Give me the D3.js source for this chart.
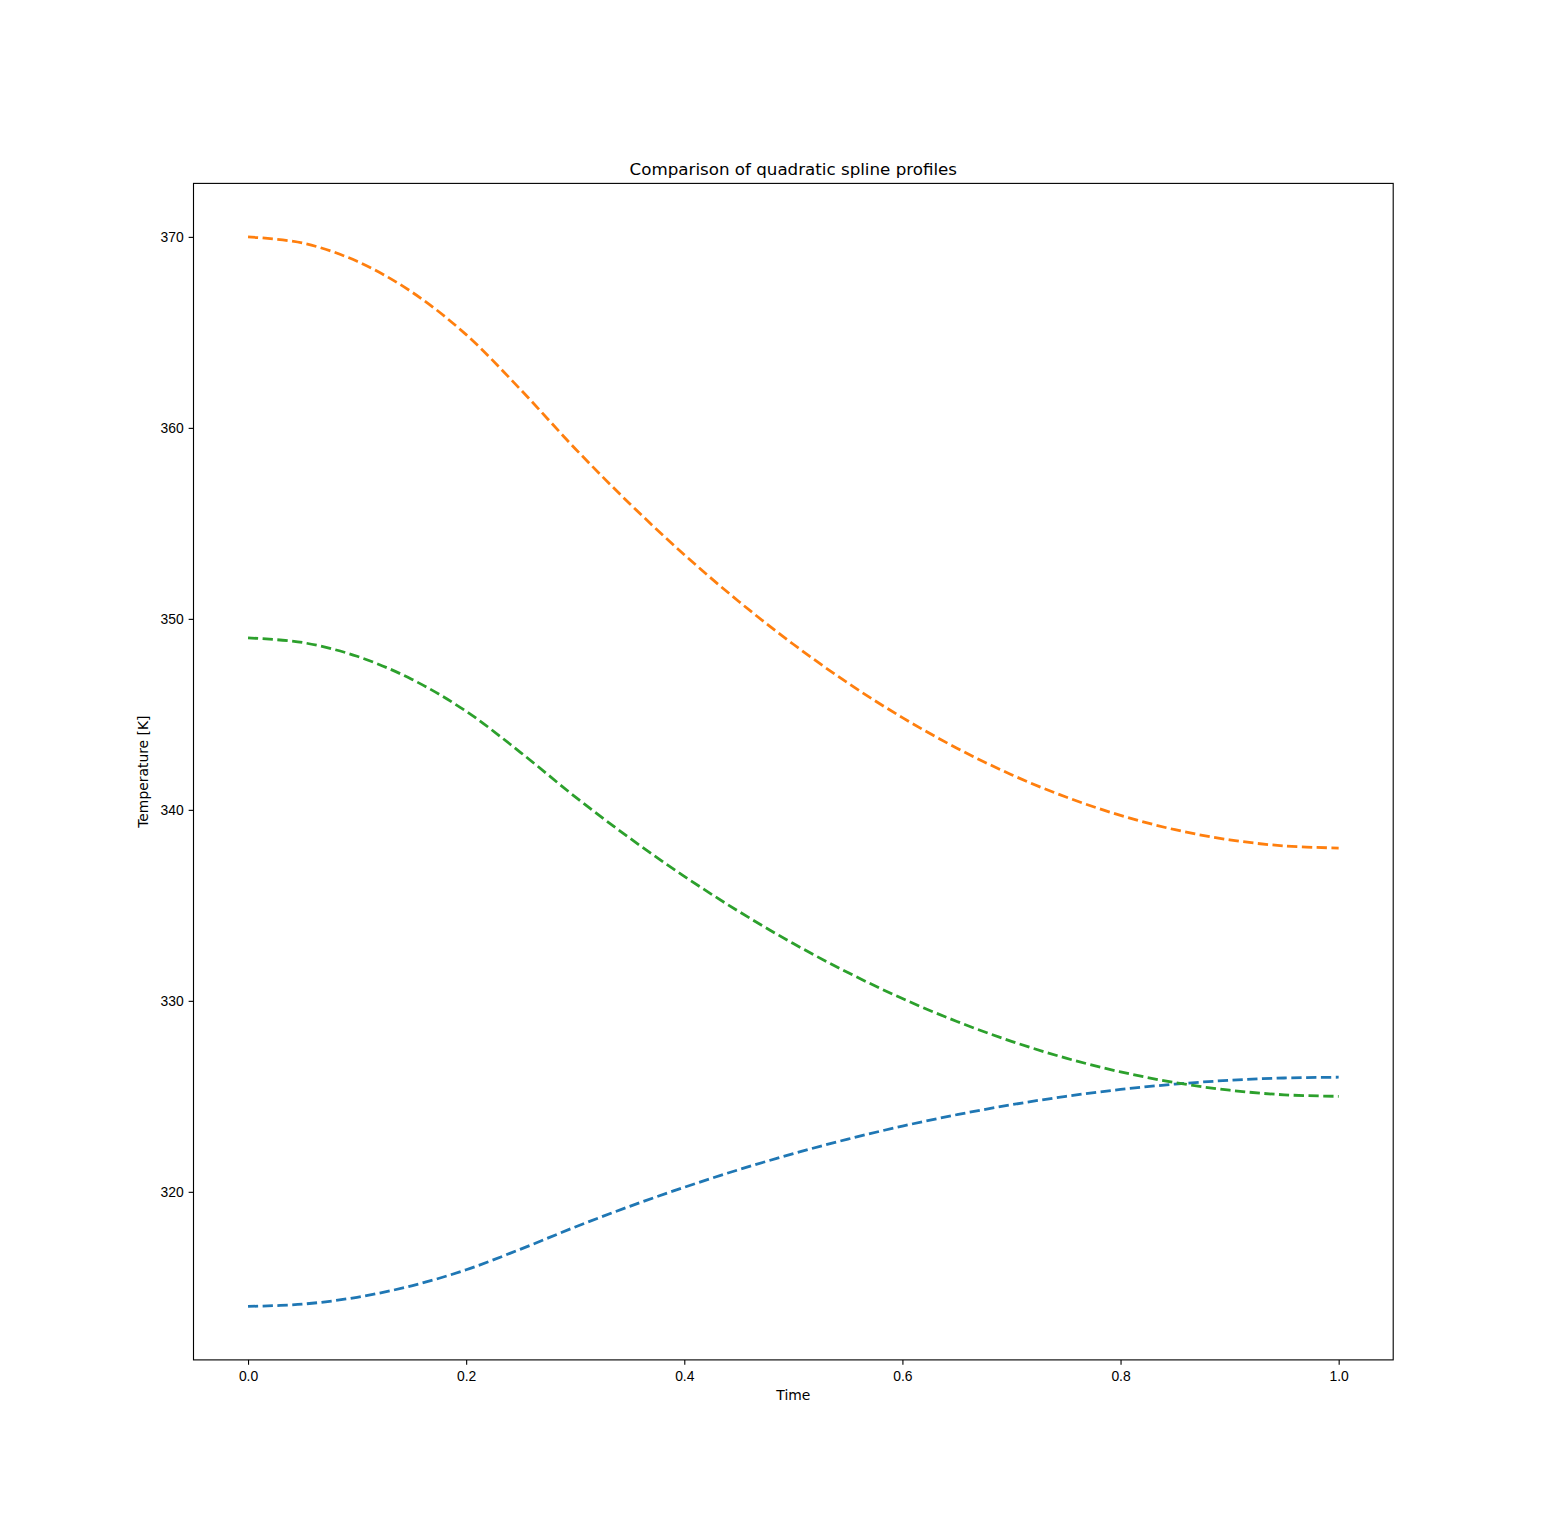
<!DOCTYPE html>
<html lang="en">
<head>
  <meta charset="utf-8">
  <title>Comparison of quadratic spline profiles</title>

  <script src="https://d3js.org/d3.v7.min.js"></script>

  <style>
    body {
      margin: 0;
      background-color: #ffffff;
      font-family: "DejaVu Sans", sans-serif;
    }

    .tick text {
      font-size: 13.9px;
      fill: #000000;
    }

    .tick line {
      stroke: #000000;
      stroke-width: 1.11px;
    }

    .axis-label {
      font-size: 13.9px;
      fill: #000000;
    }

    .title {
      font-size: 16.7px;
      fill: #000000;
    }

    path.profile {
      fill: none;
      stroke-width: 2.78px;
      stroke-dasharray: 10.28, 4.44;
      stroke-linecap: butt;
    }
  </style>
</head>
<body>

<script>
// values
var times = [0.00, 0.05, 0.10, 0.15, 0.20, 0.25, 0.30, 0.35, 0.40, 0.45, 0.50,
             0.55, 0.60, 0.65, 0.70, 0.75, 0.80, 0.85, 0.90, 0.95, 1.00];

var profileA = [314.00, 314.12, 314.48, 315.08, 315.92, 317.00, 318.16, 319.24, 320.24, 321.16, 322.00,
                322.76, 323.44, 324.04, 324.56, 325.00, 325.36, 325.64, 325.84, 325.96, 326.00];

var profileB = [370.00, 369.68, 368.72, 367.12, 364.88, 362.00, 358.91, 356.03, 353.36, 350.91, 348.67,
                346.64, 344.83, 343.23, 341.84, 340.67, 339.71, 338.96, 338.43, 338.11, 338.00];

var profileC = [349.00, 348.76, 348.04, 346.84, 345.16, 343.00, 340.68, 338.52, 336.52, 334.68, 333.00,
                331.48, 330.12, 328.92, 327.88, 327.00, 326.28, 325.72, 325.32, 325.08, 325.00];

var xTicks = [0.0, 0.2, 0.4, 0.6, 0.8, 1.0];
var yTicks = [320, 330, 340, 350, 360, 370];

var series = [
  { name: "A", values: profileA, color: "#1f77b4" },
  { name: "B", values: profileB, color: "#ff7f0e" },
  { name: "C", values: profileC, color: "#2ca02c" }
];

var width = 1548, height = 1528;
var margin = { left: 193.5, right: 154.8, top: 183.4, bottom: 168.1 };
var plotW = width - margin.left - margin.right;
var plotH = height - margin.top - margin.bottom;

// matplotlib-style 5% margins around the data
var xMin = d3.min(times), xMax = d3.max(times);
var allY = profileA.concat(profileB, profileC);
var yMin = d3.min(allY), yMax = d3.max(allY);
var xPad = (xMax - xMin) * 0.05, yPad = (yMax - yMin) * 0.05;

var x = d3.scaleLinear()
    .domain([xMin - xPad, xMax + xPad])
    .range([0, plotW]);

var y = d3.scaleLinear()
    .domain([yMin - yPad, yMax + yPad])
    .range([plotH, 0]);

var svg = d3.select("body").append("svg")
    .attr("width", width)
    .attr("height", height);

var g = svg.append("g")
    .attr("transform", "translate(" + margin.left + "," + margin.top + ")");

var line = d3.line()
    .x(function(d, i) { return x(times[i]); })
    .y(function(d) { return y(d); })
    .curve(d3.curveCatmullRom.alpha(0.5));

g.selectAll("path.profile")
    .data(series)
    .enter().append("path")
    .attr("class", "profile")
    .style("stroke", function(d) { return d.color; })
    .attr("d", function(d) { return line(d.values); });

var xAxis = g.append("g")
    .attr("transform", "translate(0," + plotH + ")")
    .call(d3.axisBottom(x)
      .tickValues(xTicks)
      .tickFormat(d3.format(".1f"))
      .tickSize(4.86)
      .tickSizeOuter(0)
      .tickPadding(6.8));

var yAxis = g.append("g")
    .call(d3.axisLeft(y)
      .tickValues(yTicks)
      .tickFormat(d3.format("d"))
      .tickSize(4.86)
      .tickSizeOuter(0)
      .tickPadding(4.86));

xAxis.select(".domain").remove();
yAxis.select(".domain").remove();
xAxis.selectAll(".tick text").attr("font-family", null).attr("font-size", null);
yAxis.selectAll(".tick text").attr("font-family", null).attr("font-size", null);

// axes frame
g.append("rect")
    .attr("width", plotW)
    .attr("height", plotH)
    .attr("fill", "none")
    .attr("stroke", "#000000")
    .attr("stroke-width", 1.11);

g.append("text")
    .attr("class", "title")
    .attr("x", plotW / 2)
    .attr("y", -8.3)
    .attr("text-anchor", "middle")
    .text("Comparison of quadratic spline profiles");

g.append("text")
    .attr("class", "axis-label")
    .attr("x", plotW / 2)
    .attr("y", plotH + 40.5)
    .attr("text-anchor", "middle")
    .text("Time");

g.append("text")
    .attr("class", "axis-label")
    .attr("transform", "translate(-45.5," + (plotH / 2) + ") rotate(-90)")
    .attr("text-anchor", "middle")
    .text("Temperature [K]");
</script>

</body>
</html>
